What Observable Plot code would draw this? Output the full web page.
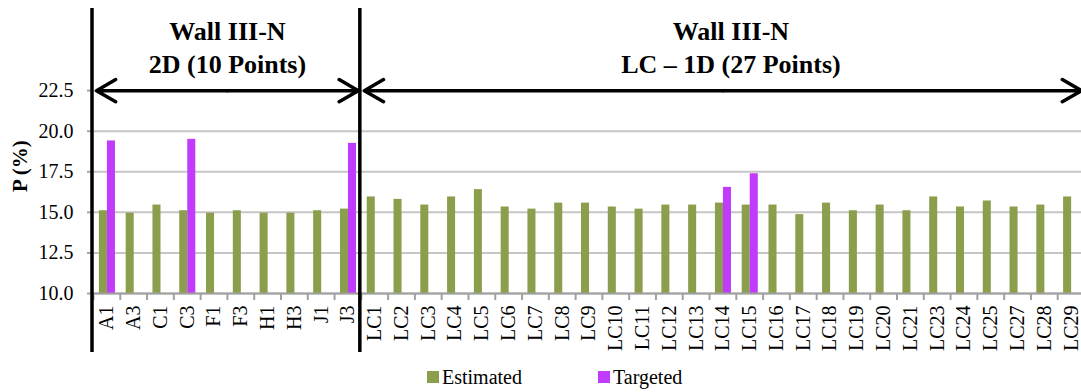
<!DOCTYPE html>
<html><head><meta charset="utf-8">
<script src="https://cdn.jsdelivr.net/npm/d3@7"></script>
<script src="https://cdn.jsdelivr.net/npm/@observablehq/plot@0.6"></script>
<style>
body{margin:0;background:#fff;font-family:"Liberation Serif","DejaVu Serif",Times,serif;}
#legend{display:flex;height:30px;align-items:center;padding-left:427px;font-size:20px;color:#000;font-family:"Liberation Serif","DejaVu Serif",Times,serif;}
.item{display:flex;align-items:center}
.sw{display:inline-block;width:12px;height:12px;margin-right:3px}
svg text{font-family:"Liberation Serif","DejaVu Serif",Times,serif;}
</style></head><body>
<div id="chart"></div>
<div id="legend"></div>
<script>
const cats2D = ["A1","A3","C1","C3","F1","F3","H1","H3","J1","J3"];
const catsLC = ["LC1","LC2","LC3","LC4","LC5","LC6","LC7","LC8","LC9","LC10","LC11","LC12","LC13","LC14","LC15","LC16","LC17","LC18","LC19","LC20","LC21","LC23","LC24","LC25","LC27","LC28","LC29"];
const estimated2D = [15.1,14.95,15.45,15.1,14.95,15.1,14.95,14.95,15.1,15.2];
const estimatedLC = [15.95,15.8,15.45,15.95,16.4,15.33,15.2,15.57,15.57,15.33,15.2,15.45,15.45,15.57,15.45,15.45,14.86,15.57,15.1,15.45,15.1,15.95,15.33,15.7,15.33,15.45,15.95];
const targetedCats = ["A1","C3","J3","LC14","LC15"];
const targetedValues = [19.4,19.5,19.25,16.54,17.38];
const yTicks = [10,12.5,15,17.5,20,22.5];
const seriesNames = ["Estimated","Targeted"];
const groupTitles = [["Wall III-N","2D (10 Points)"],["Wall III-N","LC \u2013 1D (27 Points)"]];
const colors = ["#8a9e4c","#c13bfd"];

const cats = [...cats2D, ...catsLC];
const estimated = [...estimated2D, ...estimatedLC];
const estRows = cats.map((c, i) => ({i, v: estimated[i]}));
const tgtRows = targetedCats.map((c, k) => ({i: cats.indexOf(c), v: targetedValues[k]}));
const yBase = yTicks[0], yTop = yTicks[yTicks.length - 1];
const groups = [
  {start: 0, end: cats2D.length, title: groupTitles[0], shift: 0},
  {start: cats2D.length, end: cats.length, title: groupTitles[1], shift: 8}
];
const arrowSegs = groups.flatMap(g => {
  const m = (g.start + g.end) / 2;
  return [{x1: m, x2: g.start}, {x1: m, x2: g.end}];
});
const serif = "'Liberation Serif','DejaVu Serif',Times,serif";

const chart = Plot.plot({
  width: 1081, height: 362,
  marginLeft: 93, marginRight: 0, marginTop: 9, marginBottom: 69,
  style: {fontFamily: serif, fontSize: "20px", color: "#000", background: "#fff"},
  x: {type: "linear", domain: [0, cats.length], range: [93, 1084]},
  y: {domain: [yBase, 27.5]},
  marks: [
    Plot.gridY(yTicks, {stroke: "#c6c6c6", strokeWidth: 2, strokeOpacity: 1}),
    Plot.axisY({ticks: yTicks, tickSize: 6, tickPadding: 14, tickFormat: d => d.toFixed(1), stroke: "#a6a6a6", strokeWidth: 2, fontSize: 20, fontFamily: serif, label: null}),
    Plot.rectY(estRows, {x1: d => d.i + 0.22, x2: d => d.i + 0.52, y1: () => yBase, y2: "v", fill: colors[0]}),
    Plot.rectY(tgtRows, {x1: d => d.i + 0.52, x2: d => d.i + 0.82, y1: () => yBase, y2: "v", fill: colors[1]}),
    Plot.ruleY([yBase], {stroke: "#a0a0a0", strokeWidth: 2}),
    Plot.axisX({ticks: d3.range(cats.length + 1), tickSize: 7, tickFormat: () => "", stroke: "#a0a0a0", strokeWidth: 2, label: null}),
    Plot.axisX({ticks: cats.map((_, i) => i + 0.5), tickSize: 0, tickPadding: 12, tickRotate: -90, tickFormat: v => cats[Math.floor(v)], fontSize: 20, fontFamily: serif, label: null}),
    Plot.ruleX(groups.map(g => g.start), {stroke: "#000", strokeWidth: 3.5, insetBottom: -59, insetTop: -1, dx: -1.5}),
    Plot.arrow(arrowSegs, {x1: "x1", x2: "x2", y1: () => yTop, y2: () => yTop, bend: 0, headLength: 9.5, headAngle: 60, strokeWidth: 3.5, stroke: "#000", insetEnd: 3}),
    ...groups.map(g => Plot.text([g], {x: d => (d.start + d.end) / 2, y: () => yTop, text: d => d.title.join("\n"), lineAnchor: "bottom", dy: -18, dx: g.shift, fontSize: 26, fontWeight: "bold", fontFamily: serif, lineHeight: 1.27})),
    Plot.text(["P (%)"], {frameAnchor: "left", y: () => (yBase + yTop) / 2, text: d => d, rotate: -90, dx: -73, fontSize: 21, fontWeight: "bold", fontFamily: serif})
  ]
});
document.getElementById("chart").appendChild(chart);

const legend = document.getElementById("legend");
seriesNames.forEach((name, k) => {
  const item = document.createElement("div");
  item.className = "item";
  if (k > 0) item.style.marginLeft = "76px";
  const sw = document.createElement("span");
  sw.className = "sw";
  sw.style.background = colors[k];
  const t = document.createElement("span");
  t.textContent = name;
  item.appendChild(sw); item.appendChild(t);
  legend.appendChild(item);
});
</script>
</body></html>
